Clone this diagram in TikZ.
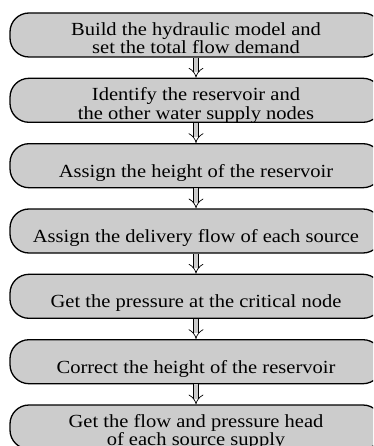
\documentclass[tikz,border=0pt]{standalone}
\usepackage{fontspec}
\setmainfont{Liberation Serif}[FakeStretch=1.11]
\usetikzlibrary{arrows.meta}
\definecolor{boxgray}{RGB}{204,204,204}
\begin{document}
\begin{tikzpicture}[x=1pt,y=1pt,
  stepbox/.style={draw=black, line width=1.3pt, fill=boxgray,
    rounded corners=19pt, minimum width=372pt, minimum height=44pt,
    inner sep=0pt},
  steptext/.style={anchor=base, inner sep=0pt,
    font=\fontsize{18.5}{18.5}\selectfont},
  flow/.style={line width=0.7pt, double=boxgray, double distance=4.6pt,
    -{Implies}}]
% page frame; the boxes run past the right edge
\clip (0,0) rectangle (373,-446);

% process boxes, top to bottom
\node[stepbox] (b1) at (196,-35)    {};
\node[stepbox] (b2) at (196,-100.3) {};
\node[stepbox] (b3) at (196,-165.7) {};
\node[stepbox] (b4) at (196,-231)   {};
\node[stepbox] (b5) at (196,-296.3) {};
\node[stepbox] (b6) at (196,-361.7) {};
\node[stepbox] (b7) at (196,-427)   {};

% box texts
\node[steptext] (t1a) at ([yshift=-0.3pt]b1.center)  {Build the hydraulic model and};
\node[steptext] (t1b) at ([yshift=-18.8pt]b1.center) {set the total flow demand};
\node[steptext] (t2a) at ([yshift=-0.3pt]b2.center)  {Identify the reservoir and};
\node[steptext] (t2b) at ([yshift=-18.8pt]b2.center) {the other water supply nodes};
\node[steptext] (t3)  at ([yshift=-11.5pt]b3.center) {Assign the height of the reservoir};
\node[steptext] (t4)  at ([yshift=-11.5pt]b4.center) {Assign the delivery flow of each source};
\node[steptext] (t5)  at ([yshift=-11.5pt]b5.center) {Get the pressure at the critical node};
\node[steptext] (t6)  at ([yshift=-11.5pt]b6.center) {Correct the height of the reservoir};
\node[steptext] (t7a) at ([yshift=-0.3pt]b7.center)  {Get the flow and pressure head};
\node[steptext] (t7b) at ([yshift=-18.8pt]b7.center) {of each source supply};

% hollow arrows between consecutive steps
\draw[flow] (b1) -- (b2);
\draw[flow] (b2) -- (b3);
\draw[flow] (b3) -- (b4);
\draw[flow] (b4) -- (b5);
\draw[flow] (b5) -- (b6);
\draw[flow] (b6) -- (b7);
\end{tikzpicture}
\end{document}
